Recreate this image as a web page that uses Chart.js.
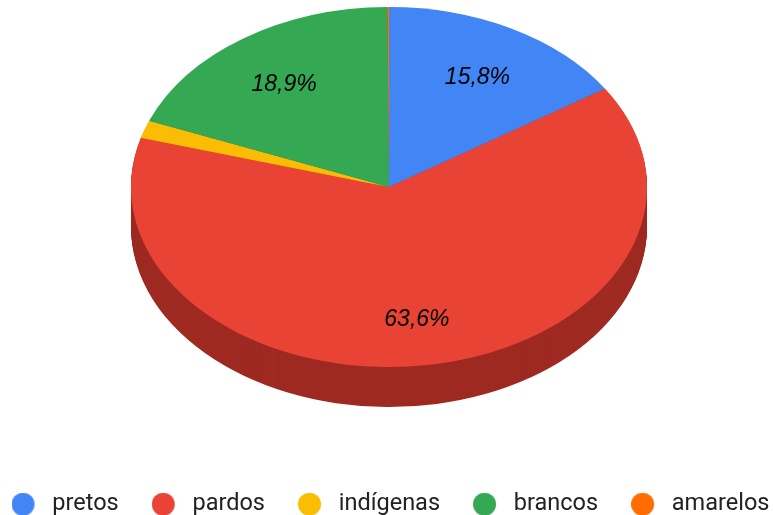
<!DOCTYPE html>
<html>
<head>
<meta charset="utf-8">
<script src="https://cdn.jsdelivr.net/npm/chart.js@4/dist/chart.umd.min.js"></script>
<style>
html,body{margin:0;padding:0;background:#fff;}
#wrap{width:773px;height:515px;}
</style>
</head>
<body>
<div id="wrap"><canvas id="c" width="773" height="515"></canvas></div>
<script>
const categories = ['pretos', 'pardos', 'indígenas', 'brancos', 'amarelos'];
const values = [15.8, 63.6, 1.6, 18.9, 0.1];
const labelsText = ['15,8%', '63,6%', '', '18,9%', ''];
const colors = ['#4285F4', '#E94335', '#FBBC04', '#34A853', '#FF6D01'];
const sideColors = ['#2E5DAB', '#9E2A22', '#B08403', '#24763A', '#B34C01'];

// final ellipse geometry of the 3D top face
const GEO = { cx: 389, cy: 187, rx: 258, ry: 180, depth: 40, labelFrac: 0.72, labelDy: 4.5 };

function applyTransform(ctx, el, dy) {
  const r = el.outerRadius;
  ctx.translate(GEO.cx, GEO.cy + dy);
  ctx.scale(GEO.rx / r, GEO.ry / r);
  ctx.translate(-el.x, -el.y);
}

const pie3d = {
  id: 'pie3d',
  beforeDatasetsDraw(chart) {
    const ctx = chart.ctx;
    const els = chart.getDatasetMeta(0).data;
    if (!els.length) return;
    for (let d = GEO.depth; d >= 1; d--) {
      ctx.save();
      applyTransform(ctx, els[0], d);
      els.forEach((el, i) => {
        ctx.beginPath();
        ctx.moveTo(el.x, el.y);
        ctx.arc(el.x, el.y, el.outerRadius, el.startAngle, el.endAngle);
        ctx.closePath();
        ctx.fillStyle = sideColors[i];
        ctx.fill();
      });
      ctx.restore();
    }
    ctx.save();
    applyTransform(ctx, els[0], 0);
  },
  afterDatasetsDraw(chart) {
    const ctx = chart.ctx;
    const els = chart.getDatasetMeta(0).data;
    if (!els.length) return;
    ctx.restore();
    ctx.save();
    ctx.font = 'italic 23px "Liberation Sans", Arial, sans-serif';
    ctx.fillStyle = '#000';
    ctx.textAlign = 'center';
    ctx.textBaseline = 'middle';
    els.forEach((el, i) => {
      if (!labelsText[i]) return;
      const mid = (el.startAngle + el.endAngle) / 2;
      const x = GEO.cx + GEO.rx * GEO.labelFrac * Math.cos(mid);
      const y = GEO.cy + GEO.ry * GEO.labelFrac * Math.sin(mid) + GEO.labelDy;
      ctx.fillText(labelsText[i], x, y);
    });
    ctx.restore();
  }
};

function dotImage(color) {
  const c = document.createElement('canvas');
  c.width = 29; c.height = 23;
  const g = c.getContext('2d');
  g.fillStyle = color;
  g.beginPath();
  g.arc(11.5, 11.5, 11.5, 0, Math.PI * 2);
  g.fill();
  return c;
}
const dots = colors.map(dotImage);

new Chart(document.getElementById('c'), {
  type: 'pie',
  data: {
    labels: categories,
    datasets: [{ data: values, backgroundColor: colors, borderWidth: 0 }]
  },
  options: {
    responsive: false,
    animation: false,
    events: [],
    layout: { padding: { left: -26, right: -34, bottom: -11 } },
    plugins: {
      tooltip: { enabled: false },
      legend: {
        position: 'bottom',
        labels: {
          usePointStyle: true,
          pointStyleWidth: 29,
          boxHeight: 23,
          padding: 33,
          color: '#222222',
          font: { family: 'Roboto', size: 23.5 },
          generateLabels(chart) {
            return categories.map((t, i) => ({
              text: t,
              fillStyle: colors[i],
              strokeStyle: colors[i],
              lineWidth: 0,
              pointStyle: dots[i],
              hidden: false,
              index: i,
              fontColor: '#222222'
            }));
          }
        }
      }
    }
  },
  plugins: [pie3d]
});
</script>
</body>
</html>
